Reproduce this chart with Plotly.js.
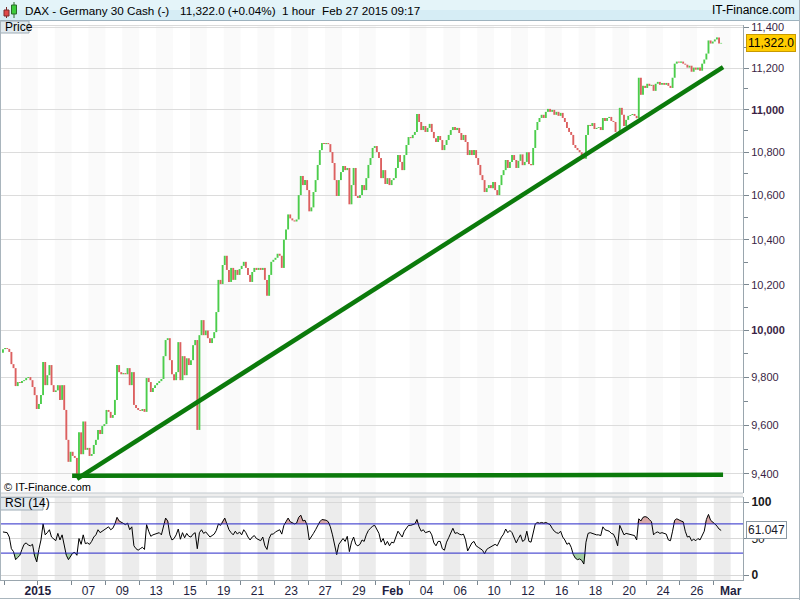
<!DOCTYPE html>
<html><head><meta charset="utf-8">
<script src="https://cdn.plot.ly/plotly-3.0.1.min.js"></script>
<style>html,body{margin:0;padding:0;background:#fff}#chart{width:800px;height:600px}</style>
</head><body><div id="chart"></div>
<script>
// ---------- DATA ----------
const tradingDays = ['2014-12-23','2014-12-29','2014-12-30','2015-01-02','2015-01-05','2015-01-06','2015-01-07','2015-01-08','2015-01-09','2015-01-12','2015-01-13','2015-01-14','2015-01-15','2015-01-16','2015-01-19','2015-01-20','2015-01-21','2015-01-22','2015-01-23','2015-01-26','2015-01-27','2015-01-28','2015-01-29','2015-01-30','2015-02-02','2015-02-03','2015-02-04','2015-02-05','2015-02-06','2015-02-09','2015-02-10','2015-02-11','2015-02-12','2015-02-13','2015-02-16','2015-02-17','2015-02-18','2015-02-19','2015-02-20','2015-02-23','2015-02-24','2015-02-25','2015-02-26','2015-02-27','2015-03-02'];
const barsPerDay = 8;
const firstOpen = 9905;
// hourly closes, one row per trading day (open of each bar = previous close)
const closes = [
 [null,null,null,null,null,null,null,9920],
 [9925,9921,9908,9856,9839,9763,9780,9776],
 [9784,9788,9797,9801,9788,9759,9725,9667],
 [9688,9725,9865,9767,9809,9852,9767,9738],
 [9745,9767,9705,9767,9663,9539,9449,9490],
 [9473,9465,9392,9570,9480,9615,9498,9506],
 [9473,9481,9518,9539,9580,9563,9596,9604],
 [9663,9655,9630,9642,9705,9852,9822,9813],
 [9818,9813,9839,9767,9822,9684,9671,9663],
 [9659,9667,9655,9797,9780,9738,9755,9767],
 [9776,9784,9793,9890,9959,9967,9873,9813],
 [9788,9822,9950,9788,9890,9809,9881,9852],
 [9873,9937,9959,9580,9980,10045,9980,10000],
 [9967,9946,9967,9993,10080,10221,10203,10287],
 [10328,10265,10212,10274,10221,10265,10243,10269],
 [10283,10301,10274,10243,10212,10256,10274,10265],
 [10274,10265,10274,10221,10151,10243,10301,10310],
 [10319,10337,10328,10274,10400,10446,10514,10496],
 [10487,10482,10491,10602,10690,10648,10671,10625],
 [10528,10546,10616,10671,10741,10810,10843,10838],
 [10843,10838,10801,10750,10671,10598,10671,10708],
 [10736,10717,10727,10560,10648,10727,10598,10589],
 [10602,10648,10625,10680,10741,10773,10820,10829],
 [10801,10773,10680,10717,10653,10680,10648,10671],
 [10680,10727,10787,10755,10717,10787,10834,10871],
 [10866,10881,10895,10980,10942,10904,10923,10895],
 [10914,10933,10895,10866,10848,10876,10857,10810],
 [10834,10857,10881,10904,10918,10904,10914,10890],
 [10857,10881,10848,10787,10810,10787,10810,10773],
 [10741,10694,10671,10616,10634,10648,10634,10662],
 [10625,10602,10648,10694,10717,10764,10727,10755],
 [10787,10764,10727,10760,10790,10740,10755,10800],
 [10745,10740,10820,10904,10942,10961,10976,10961],
 [10990,11004,10990,10999,10976,10990,10971,10985],
 [10961,10942,10914,10895,10881,10834,10820,10810],
 [10800,10785,10770,10881,10928,10923,10937,10909],
 [10914,10918,10904,10961,10947,10961,10966,10947],
 [10942,10895,10885,11009,10976,10923,10952,10971],
 [10975,10980,10971,10960,11153,11071,11114,11104],
 [11124,11114,11119,11090,11124,11133,11119,11128],
 [11119,11128,11114,11104,11153,11221,11231,11226],
 [11231,11221,11216,11202,11211,11182,11202,11192],
 [11202,11187,11221,11241,11270,11334,11319,11329],
 [11339,11349,11319,11322.0],
 []
];
// RSI(14) read per bar
const rsiValues = [
 [null,null,null,null,null,null,null,59],
 [59,58,52,36,32,21,24,27],
 [35,42,44,41,40,42,26,18],
 [35,48,70,55,58,62,52,49],
 [47,57,48,55,38,27,21,25],
 [30,31,27,50,42,55,43,44],
 [42,46,52,55,62,58,60,61],
 [64,66,62,64,70,79,74,72],
 [70,69,71,62,66,40,36,34],
 [36,38,35,69,60,53,55,56],
 [58,58,55,68,78,74,55,48],
 [50,55,63,49,58,51,57,53],
 [52,56,58,36,58,62,57,59],
 [55,52,54,56,61,70,68,73],
 [78,70,62,58,55,60,56,59],
 [55,62,58,52,48,52,54,50],
 [49,47,52,40,35,50,56,56],
 [59,61,62,56,68,73,78,73],
 [71,70,71,79,82,74,75,68],
 [48,52,57,62,68,73,76,76],
 [75,73,66,55,40,28,42,47],
 [50,46,53,32,45,52,42,40],
 [42,48,46,55,61,64,67,68],
 [63,57,45,50,41,46,40,45],
 [44,52,60,56,52,60,65,68],
 [68,69,70,76,66,60,62,58],
 [59,60,55,44,40,46,46,36],
 [34,45,51,58,64,57,58,56],
 [55,56,48,33,38,44,46,40],
 [38,36,34,29,35,37,39,41],
 [42,40,47,52,56,63,58,61],
 [58,52,44,50,55,46,48,60],
 [46,45,58,70,72,71,72,71],
 [72,70,69,64,60,58,57,60],
 [52,48,42,44,38,28,23,21],
 [22,20,15,45,57,58,57,55],
 [55,55,54,66,62,61,60,57],
 [56,50,40,68,60,55,57,56],
 [56,55,54,48,77,74,79,80],
 [79,76,73,55,58,59,57,58],
 [57,56,48,47,60,75,77,75],
 [74,73,60,52,53,47,49,47],
 [50,48,55,60,76,83,75,73],
 [70,67,63,61.047],
 []
];
const shadedDays = ['2014-12-30','2015-01-05','2015-01-07','2015-01-09','2015-01-13','2015-01-15','2015-01-19','2015-01-21','2015-01-23','2015-01-27','2015-01-29','2015-02-03','2015-02-05','2015-02-09','2015-02-11','2015-02-13','2015-02-17','2015-02-19','2015-02-23','2015-02-25','2015-02-27'];
const tickDays = ['2015-01-02','2015-01-07','2015-01-09','2015-01-13','2015-01-15','2015-01-19','2015-01-21','2015-01-23','2015-01-27','2015-01-29','2015-02-02','2015-02-04','2015-02-06','2015-02-10','2015-02-12','2015-02-16','2015-02-18','2015-02-20','2015-02-24','2015-02-26','2015-03-02'];
const tickText = ['<b>2015</b>','07','09','13','15','19','21','23','27','29','<b>Feb</b>','04','06','10','12','16','18','20','24','26','<b>Mar</b>'];
const priceTicks = [9400,9600,9800,10000,10200,10400,10600,10800,11000,11200,11400];
const priceTickText = ['9,400','9,600','9,800','<b>10,000</b>','10,200','10,400','10,600','10,800','<b>11,000</b>','11,200','11,400'];
const priceMinorTicks = [9500,9700,9900,10100,10300,10500,10700,10900,11100,11300];
const rsiTicks = [0,50,100];
const rsiTickText = ['<b>0</b>','50','<b>100</b>'];
const rsiLevels = [70,30];
// hand-drawn trend lines: [day, fraction of day, price]
const trendUpDays = ['2015-01-06','2015-02-27'], trendUpFrac = [0.32,0.55], trendUpPrices = [9380,11204];
const supportDays = ['2015-01-06','2015-02-27'], supportFrac = [0.03,0.55], supportPrices = [9392,9396];
const lastPrice = 11322.0, lastChange = '+0.04%', lastRsi = 61.047;

// ---------- BUILD ----------
const dayPos = d => tradingDays.indexOf(d);
const xs=[], opens=[], cls=[], rsis=[];
let prev = firstOpen;
closes.forEach((day,i)=>day.forEach((c,k)=>{
  if(c===null) return;
  xs.push(i+(k+0.5)/barsPerDay); opens.push(prev); cls.push(c); rsis.push(rsiValues[i][k]); prev=c;
}));
const upX=[],upY=[],dnX=[],dnY=[];
xs.forEach((x,j)=>{
  const o=opens[j], c=cls[j];
  if(c>=o){upX.push(x,x,null);upY.push(o,c,null);} else {dnX.push(x,x,null);dnY.push(o,c,null);}
});

const W=800,H=600;
const py = p => 1-p/H, px = p => p/W;
const xDom=[0,743/W];
const mainDom=[py(493),py(25)];
const rsiDom=[py(580),py(497)];
const xRange=[0.763,44.73];
const FONT='Liberation Sans, Arial, sans-serif';

const traces=[
 {type:'scatter',mode:'lines',x:upX,y:upY,line:{color:'#4ccd4c',width:1.9},xaxis:'x',yaxis:'y',hoverinfo:'skip'},
 {type:'scatter',mode:'lines',x:dnX,y:dnY,line:{color:'#dc6060',width:1.9},xaxis:'x',yaxis:'y',hoverinfo:'skip'},
 {type:'scatter',mode:'lines',x:trendUpDays.map((d,j)=>dayPos(d)+trendUpFrac[j]),y:trendUpPrices,line:{color:'#0b7a0b',width:4.5},xaxis:'x',yaxis:'y'},
 {type:'scatter',mode:'lines',x:supportDays.map((d,j)=>dayPos(d)+supportFrac[j]),y:supportPrices,line:{color:'#0b7a0b',width:4.5},xaxis:'x',yaxis:'y'},
 {type:'scatter',mode:'lines',x:xs,y:xs.map(()=>rsiLevels[0]),line:{width:0},xaxis:'x2',yaxis:'y2'},
 {type:'scatter',mode:'lines',x:xs,y:rsis.map(v=>Math.max(v,rsiLevels[0])),fill:'tonexty',fillcolor:'#d8a9a9',line:{width:0},xaxis:'x2',yaxis:'y2'},
 {type:'scatter',mode:'lines',x:xs,y:xs.map(()=>rsiLevels[1]),line:{width:0},xaxis:'x2',yaxis:'y2'},
 {type:'scatter',mode:'lines',x:xs,y:rsis.map(v=>Math.min(v,rsiLevels[1])),fill:'tonexty',fillcolor:'#a3cca3',line:{width:0},xaxis:'x2',yaxis:'y2'},
 {type:'scatter',mode:'lines',x:xs,y:rsis,line:{color:'#000',width:1},xaxis:'x2',yaxis:'y2'}
];

const shapes=[];
const rect=(x0,y0,x1,y1,fill,line,lw)=>shapes.push({type:'rect',xref:'paper',yref:'paper',x0:px(x0),x1:px(x1),y0:py(y1),y1:py(y0),fillcolor:fill,line:{color:line||fill,width:lw===undefined?0:lw},layer:'above'});
const hline=(x0,x1,y,color,w)=>shapes.push({type:'line',xref:'paper',yref:'paper',x0:px(x0),x1:px(x1),y0:py(y),y1:py(y),line:{color:color,width:w||1},layer:'above'});
const vline=(x,y0,y1,color,w)=>shapes.push({type:'line',xref:'paper',yref:'paper',x0:px(x),x1:px(x),y0:py(y0),y1:py(y1),line:{color:color,width:w||1},layer:'above'});
// day bands
shadedDays.forEach(d=>{
  const i=dayPos(d);
  shapes.push({type:'rect',xref:'x',yref:'paper',x0:i,x1:i+1,y0:mainDom[0],y1:mainDom[1],fillcolor:'#fafafa',line:{width:0},layer:'below'});
  shapes.push({type:'rect',xref:'x2',yref:'paper',x0:i,x1:i+1,y0:rsiDom[0],y1:rsiDom[1],fillcolor:'#ececec',line:{width:0},layer:'below'});
});
// RSI 70/30 lines
rsiLevels.forEach(v=>shapes.push({type:'line',xref:'paper',yref:'y2',x0:0,x1:xDom[1],y0:v,y1:v,line:{color:'#2828c8',width:1},layer:'above'}));
// header
rect(0,0,800,10,'#e4f4f9');
rect(0,10,800,20,'#d6edf5');
hline(0,800,20.5,'#9db2be',1);
hline(0,743,25.5,'#dadada',1);
// candle icon
vline(6.5,7,18,'#7a2a2a',1); rect(4,10,9,16,'#e04848','#7a2a2a',1);
vline(14,2,18,'#2a6a2a',1); rect(11.5,5,16.5,14,'#3ccc3c','#2a6a2a',1);
// panel separator
rect(0,493,743,497,'#eeeeee');
hline(0,743,493,'#c2c9ce',1); hline(0,743,497,'#c2c9ce',1);
// labels boxes
rect(0.5,21,29,33,'#e1e9ee','#9eacb6',1);
rect(0.5,497.5,43,510,'#e1e9ee','#9eacb6',1);
// left border & frame
vline(0.5,20,580,'#a9b5bd',1);
hline(0,800,598.5,'#a9b5bd',1);
vline(799.5,0,600,'#a9b5bd',1);

const ann=(x,y,text,anchor,size,color,extra)=>Object.assign({xref:'paper',yref:'paper',x:px(x),y:py(y),text:text,showarrow:false,xanchor:anchor||'left',yanchor:'middle',font:{family:FONT,size:size||12,color:color||'#000'}},extra||{});
const annotations=[
 ann(23,10.5,'DAX - Germany 30 Cash (-)','left',11.7),
 ann(178,10.5,'11,322.0 ('+lastChange+')','left',11.7),
 ann(280,10.5,'1 hour','left',11.7),
 ann(320,10.5,'Feb 27 2015 09:17','left',11.7),
 ann(797,10.5,'IT-Finance.com','right',12),
 ann(3,27.5,'Price','left',12),
 ann(3,503.5,'RSI (14)','left',12),
 ann(2,487,'© IT-Finance.com','left',11),
 {xref:'paper',yref:'y',x:px(745.5),y:Math.log10(lastPrice),text:lastPrice.toLocaleString('en-US',{minimumFractionDigits:1}),showarrow:false,xanchor:'left',yanchor:'middle',bgcolor:'#ffcc00',bordercolor:'#c99a00',borderwidth:1,borderpad:1,font:{family:FONT,size:12,color:'#000'}},
 {xref:'paper',yref:'y2',x:px(745.5),y:lastRsi,text:lastRsi.toFixed(3),showarrow:false,xanchor:'left',yanchor:'middle',bgcolor:'#ffffff',bordercolor:'#8c9aa4',borderwidth:1,borderpad:1,font:{family:FONT,size:12,color:'#1a1a2a'}}
];

const minorX=[]; for(let i=1;i<=43;i+=2) minorX.push(i);
const layout={
 width:W,height:H,margin:{l:0,r:0,t:0,b:0,pad:0},
 paper_bgcolor:'#ffffff',plot_bgcolor:'rgba(0,0,0,0)',showlegend:false,hovermode:false,
 font:{family:FONT},
 xaxis:{domain:xDom,range:xRange,anchor:'y',showticklabels:false,showgrid:false,zeroline:false,ticks:'',showline:false,fixedrange:true},
 xaxis2:{domain:xDom,range:xRange,anchor:'y2',tickmode:'array',tickvals:tickDays.map(dayPos),ticktext:tickText,ticks:'',showgrid:false,zeroline:false,showline:true,linecolor:'#9aa6ae',linewidth:1,tickfont:{family:FONT,size:12,color:'#1e1e40'},
   minor:{tickmode:'array',tickvals:minorX,ticks:'outside',ticklen:4,tickcolor:'#7c8891',showgrid:false}},
 yaxis:{domain:mainDom,type:'log',range:[3.96954,4.05728],anchor:'x',side:'right',tickmode:'array',tickvals:priceTicks,ticktext:priceTickText,ticks:'outside',ticklen:5,tickcolor:'#7c8891',showgrid:true,gridcolor:'#dcdcdc',gridwidth:1,zeroline:false,showline:true,linecolor:'#9aa6ae',tickfont:{family:FONT,size:11,color:'#3a1f45'},
   minor:{tickmode:'array',tickvals:priceMinorTicks,ticks:'outside',ticklen:4,tickcolor:'#7c8891',showgrid:false}},
 yaxis2:{domain:rsiDom,range:[-6.85,106.85],anchor:'x2',side:'right',tickmode:'array',tickvals:rsiTicks,ticktext:rsiTickText,ticks:'outside',ticklen:5,tickcolor:'#7c8891',showgrid:true,gridcolor:'#d8d8d8',zeroline:false,showline:true,linecolor:'#9aa6ae',tickfont:{family:FONT,size:12,color:'#1a1a1a'}},
 shapes:shapes,annotations:annotations
};
Plotly.newPlot('chart',traces,layout,{displayModeBar:false,staticPlot:true});
</script></body></html>
